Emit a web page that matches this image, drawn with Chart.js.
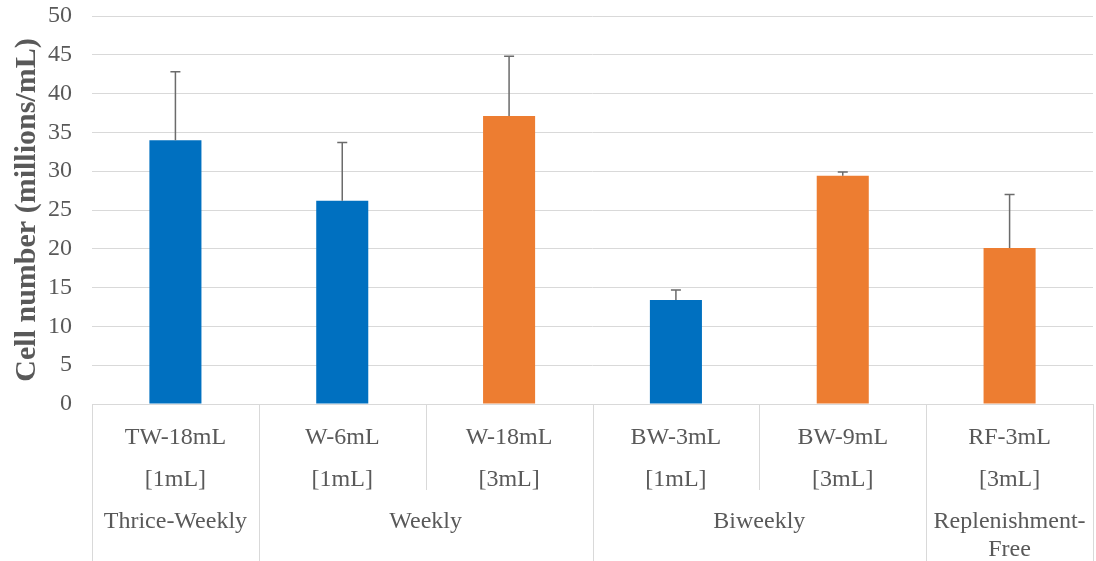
<!DOCTYPE html>
<html>
<head>
<meta charset="utf-8">
<script src="https://cdn.jsdelivr.net/npm/chart.js@4/dist/chart.umd.min.js"></script>
<style>
  html, body { margin: 0; padding: 0; background: #fff; }
  #wrap { width: 1096px; height: 561px; }
</style>
</head>
<body>
<div id="wrap"><canvas id="chart"></canvas></div>
<script>
// Conditions and their per-feed volume
const conditions = ['TW-18mL', 'W-6mL', 'W-18mL', 'BW-3mL', 'BW-9mL', 'RF-3mL'];
const volumes = ['[1mL]', '[1mL]', '[3mL]', '[1mL]', '[3mL]', '[3mL]'];
// Feeding schedule groups (how many conditions each spans)
const groups = [['Thrice-Weekly'], ['Weekly'], ['Biweekly'], ['Replenishment-', 'Free']];
const groupSpans = [1, 2, 2, 1];
// Mean cell number and upper error (SD)
const cellNumber = [34.0, 26.2, 37.1, 13.4, 29.4, 20.1];
const errorUp = [8.8, 7.5, 7.7, 1.3, 0.5, 6.9];
const yTicks = [0, 50, 5];

const BLUE = '#0070C0';
const ORANGE = '#ED7D31';
const TEXT = '#595959';
const GRID = '#d9d9d9';
const FONT = "'Liberation Serif', 'Times New Roman', serif";

// upward error bars with cap
const errorBars = {
    id: 'errorBars',
    afterDatasetsDraw(chart) {
        const ctx = chart.ctx;
        const y = chart.scales.y;
        const meta = chart.getDatasetMeta(0);
        ctx.save();
        ctx.strokeStyle = '#6b6b6b';
        ctx.lineWidth = 1.5;
        meta.data.forEach((bar, i) => {
            const top = y.getPixelForValue(cellNumber[i] + errorUp[i]);
            const base = y.getPixelForValue(cellNumber[i]);
            ctx.beginPath();
            ctx.moveTo(bar.x, base);
            ctx.lineTo(bar.x, top);
            ctx.moveTo(bar.x - 5, top);
            ctx.lineTo(bar.x + 5, top);
            ctx.stroke();
        });
        ctx.restore();
    }
};

// group row + separator lines under the category axis
const groupAxis = {
    id: 'groupAxis',
    afterDraw(chart) {
        const ctx = chart.ctx;
        const x = chart.scales.x;
        const area = chart.chartArea;
        const half = (x.getPixelForValue(1) - x.getPixelForValue(0)) / 2;
        const bottom = chart.height;
        ctx.save();
        ctx.strokeStyle = GRID;
        ctx.lineWidth = 1;
        // boundaries between conditions
        const groupEdges = new Set([0]);
        let acc = 0;
        groupSpans.forEach(s => { acc += s; groupEdges.add(acc); });
        for (let i = 0; i <= conditions.length; i++) {
            const px = Math.round(x.getPixelForValue(i) - half) + 0.5;
            ctx.beginPath();
            ctx.moveTo(px, area.bottom);
            ctx.lineTo(px, groupEdges.has(i) ? bottom : area.bottom + 86);
            ctx.stroke();
        }
        // group labels
        ctx.fillStyle = TEXT;
        ctx.font = '24px ' + FONT;
        ctx.textAlign = 'center';
        ctx.textBaseline = 'middle';
        let start = 0;
        groups.forEach((lines, g) => {
            const end = start + groupSpans[g] - 1;
            const cx = (x.getPixelForValue(start) + x.getPixelForValue(end)) / 2;
            lines.forEach((t, k) => ctx.fillText(t, cx, area.bottom + 118 + k * 28));
            start = end + 1;
        });
        ctx.restore();
    }
};

new Chart(document.getElementById('chart'), {
    type: 'bar',
    data: {
        labels: conditions.map((c, i) => [c, volumes[i]]),
        datasets: [{
            data: cellNumber,
            backgroundColor: volumes.map(v => v === '[1mL]' ? BLUE : ORANGE),
            barPercentage: 0.312,
            categoryPercentage: 1.0
        }]
    },
    options: {
        responsive: true,
        maintainAspectRatio: false,
        animation: false,
        layout: { padding: { top: 16, right: 3, left: 0, bottom: 0 } },
        plugins: {
            legend: { display: false },
            tooltip: { enabled: false }
        },
        scales: {
            x: {
                grid: { display: false, drawTicks: false },
                border: { display: true, color: GRID },
                ticks: {
                    color: TEXT,
                    font: { family: FONT, size: 24, lineHeight: 1.75 },
                    padding: 13,
                    maxRotation: 0,
                    autoSkip: false
                },
                afterFit(scale) { scale.height = 157; }
            },
            y: {
                min: yTicks[0],
                max: yTicks[1],
                ticks: {
                    stepSize: yTicks[2],
                    color: TEXT,
                    font: { family: FONT, size: 24 },
                    padding: 20
                },
                grid: { color: GRID, drawTicks: false },
                border: { display: false },
                title: {
                    display: true,
                    text: 'Cell number (millions/mL)',
                    color: TEXT,
                    font: { family: FONT, size: 30, weight: 'bold' },
                    padding: { top: 9, bottom: 0 }
                },
                afterFit(scale) {
                    scale.width = 92;
                    scale.paddingTop = 0;
                    scale.paddingBottom = 0;
                }
            }
        }
    },
    plugins: [errorBars, groupAxis]
});
</script>
</body>
</html>
